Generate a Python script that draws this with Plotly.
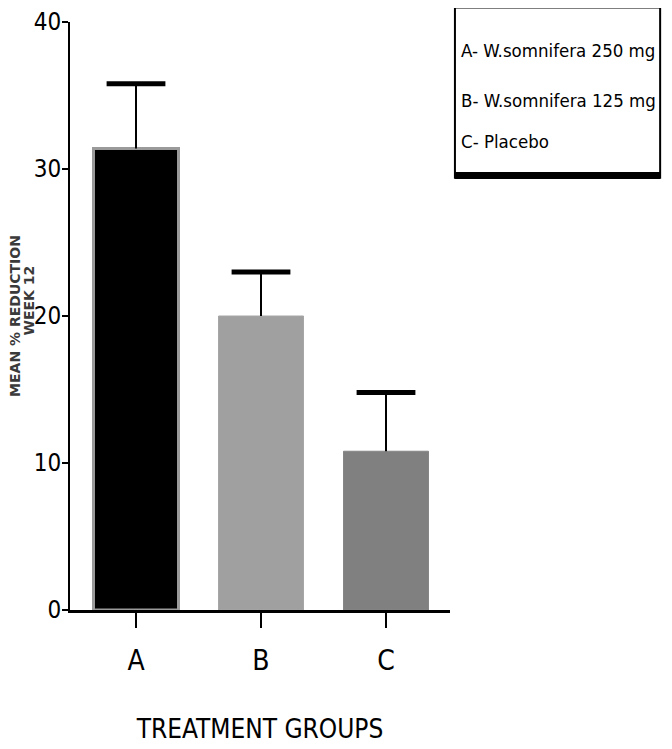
import plotly.graph_objects as go

groups = ["A", "B", "C"]
means = [31.4, 20.0, 10.8]
sem = [4.4, 3.0, 4.0]
bar_colors = ["#000000", "#a0a0a0", "#808080"]
edge_colors = ["#9a9a9a", "#a6a6a6", "#868686"]
legend_lines = ["A- W.somnifera 250 mg", "B- W.somnifera 125 mg", "C- Placebo"]
y_ticks = [0, 10, 20, 30, 40]

NARROW = "DejaVu Sans Condensed, Liberation Sans Narrow, Liberation Sans, Arial, sans-serif"

fig = go.Figure()
fig.add_trace(go.Bar(
    x=groups, y=means, width=0.68,
    marker=dict(color=bar_colors, line=dict(color=edge_colors, width=[3, 1, 1])),
    error_y=dict(type="data", array=sem, arrayminus=[0, 0, 0], symmetric=False,
                 color="black", thickness=2, width=0),
    showlegend=False,
))
# caps of error bars
fig.add_trace(go.Scatter(
    x=groups, y=[m + s for m, s in zip(means, sem)], mode="markers",
    marker=dict(symbol="line-ew", size=42, line=dict(color="black", width=5)),
    showlegend=False, hoverinfo="skip",
))

fig.update_layout(
    width=664, height=741,
    margin=dict(l=62, r=222, t=14, b=139, autoexpand=False),
    paper_bgcolor="white", plot_bgcolor="white",
    xaxis=dict(range=[-0.528, 2.512], showline=True, linecolor="black", linewidth=3,
               ticks="outside", ticklen=15, tickwidth=2, tickcolor="black",
               ticklabelstandoff=8, ticklabeloverflow="allow",
               tickfont=dict(family=NARROW, size=28, color="black"),
               showgrid=False, zeroline=False, automargin=False,
               title=dict(text="TREATMENT GROUPS", standoff=45,
                          font=dict(family=NARROW, size=26, color="black"))),
    yaxis=dict(range=[0, 40], tickvals=y_ticks, showline=True, linecolor="black", linewidth=2,
               ticks="outside", ticklen=6, tickwidth=2, tickcolor="black",
               ticklabelstandoff=-4, ticklabeloverflow="allow",
               tickfont=dict(family=NARROW, size=24, color="black"),
               showgrid=False, zeroline=False, automargin=False),
)

# y-axis title as two offset lines
fig.add_annotation(text="MEAN % REDUCTION", xref="paper", yref="paper", x=-0.145, y=0.5,
                   xanchor="center", yanchor="middle",
                   textangle=-90, showarrow=False,
                   font=dict(family="DejaVu Sans, sans-serif", size=14, color="#3a3a3a", weight="bold"))
fig.add_annotation(text="WEEK 12", xref="paper", yref="paper", x=-0.107, y=0.527,
                   xanchor="center", yanchor="middle",
                   textangle=-90, showarrow=False,
                   font=dict(family="DejaVu Sans, sans-serif", size=14, color="#3a3a3a", weight="bold"))

# legend box
fig.add_shape(type="rect", xref="paper", yref="paper", x0=1.013, x1=1.553, y0=0.735, y1=1.032,
              line=dict(color="black", width=2), fillcolor="white", layer="below")
fig.add_shape(type="line", xref="paper", yref="paper", x0=1.013, x1=1.553, y0=1.028, y1=1.028,
              line=dict(color="black", width=6))
fig.add_shape(type="line", xref="paper", yref="paper", x0=1.013, x1=1.553, y0=0.739, y1=0.739,
              line=dict(color="black", width=7))
for txt, yy in zip(legend_lines, [0.952, 0.867, 0.796]):
    fig.add_annotation(text=txt, xref="paper", yref="paper", x=1.024, y=yy,
                       xanchor="left", yanchor="middle", showarrow=False,
                       font=dict(family=NARROW, size=18.5, color="black"))

fig.write_html("out.html")
